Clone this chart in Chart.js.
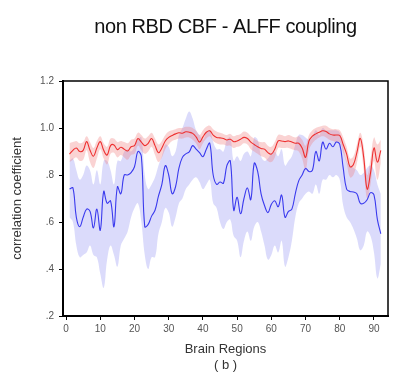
<!DOCTYPE html>
<html lang="en">
<head>
    <meta charset="UTF-8">
    <title>non RBD CBF - ALFF coupling</title>
    <script src="https://cdn.jsdelivr.net/npm/chart.js"></script>
    <style>
        html, body {
            margin: 0;
            padding: 0;
            background: #ffffff;
        }
        #wrap {
            width: 418px;
            height: 389px;
        }
    </style>
</head>
<body>
    <div id="wrap"><canvas id="coupling-chart" width="418" height="389"></canvas></div>
    <script>
        const chartTitle = "non RBD CBF - ALFF coupling";

        // brain region index (1..92)
        const regions = Array.from({ length: 92 }, (_, i) => i + 1);

        const xTicks = [0, 10, 20, 30, 40, 50, 60, 70, 80, 90];
        const yTicks = [0.2, 0.4, 0.6, 0.8, 1.0, 1.2];

        // red: mean + band
        const redMean = [
            0.889, 0.905, 0.915, 0.900, 0.905, 0.942, 0.905, 0.880, 0.915, 0.942,
            0.905, 0.885, 0.925, 0.928, 0.908, 0.918, 0.910, 0.902, 0.920, 0.925,
            0.955, 0.940, 0.925, 0.935, 0.955, 0.925, 0.895, 0.915, 0.945, 0.960,
            0.968, 0.975, 0.980, 0.978, 0.984, 0.982, 0.977, 0.962, 0.940, 0.962,
            0.982, 0.988, 0.970, 0.960, 0.958, 0.955, 0.949, 0.952, 0.942, 0.945,
            0.952, 0.960, 0.955, 0.940, 0.930, 0.920, 0.913, 0.910, 0.895, 0.889,
            0.910, 0.945, 0.945, 0.942, 0.945, 0.940, 0.935, 0.935, 0.915, 0.875,
            0.945, 0.965, 0.975, 0.982, 0.988, 0.985, 0.975, 0.970, 0.970, 0.968,
            0.930, 0.890, 0.835, 0.845, 0.895, 0.956, 0.875, 0.740, 0.810, 0.915,
            0.855, 0.905
        ];
        const redUpper = [
            0.935, 0.940, 0.945, 0.935, 0.940, 0.965, 0.940, 0.915, 0.945, 0.965,
            0.935, 0.920, 0.955, 0.955, 0.940, 0.945, 0.940, 0.935, 0.950, 0.955,
            0.980, 0.970, 0.955, 0.965, 0.980, 0.955, 0.930, 0.945, 0.970, 0.985,
            0.990, 0.995, 1.000, 1.000, 1.005, 1.005, 1.000, 0.988, 0.970, 0.990,
            1.005, 1.010, 0.995, 0.985, 0.980, 0.975, 0.970, 0.975, 0.965, 0.970,
            0.975, 0.985, 0.980, 0.965, 0.955, 0.945, 0.940, 0.940, 0.925, 0.920,
            0.940, 0.970, 0.970, 0.965, 0.970, 0.965, 0.960, 0.965, 0.950, 0.925,
            0.970, 0.990, 1.000, 1.005, 1.010, 1.010, 1.000, 0.995, 0.995, 0.990,
            0.960, 0.920, 0.870, 0.880, 0.930, 0.980, 0.920, 0.800, 0.870, 0.960,
            0.930, 0.950
        ];
        const redLower = [
            0.855, 0.865, 0.875, 0.860, 0.865, 0.905, 0.855, 0.830, 0.870, 0.910,
            0.870, 0.845, 0.890, 0.895, 0.875, 0.885, 0.875, 0.865, 0.885, 0.890,
            0.925, 0.905, 0.890, 0.900, 0.920, 0.885, 0.855, 0.875, 0.910, 0.930,
            0.945, 0.950, 0.955, 0.955, 0.960, 0.960, 0.950, 0.935, 0.910, 0.935,
            0.955, 0.965, 0.945, 0.935, 0.930, 0.930, 0.925, 0.925, 0.915, 0.920,
            0.925, 0.935, 0.930, 0.910, 0.900, 0.890, 0.880, 0.875, 0.860, 0.855,
            0.875, 0.915, 0.915, 0.915, 0.915, 0.910, 0.905, 0.900, 0.870, 0.820,
            0.905, 0.935, 0.950, 0.960, 0.965, 0.960, 0.950, 0.945, 0.940, 0.940,
            0.895, 0.850, 0.790, 0.800, 0.850, 0.920, 0.820, 0.700, 0.760, 0.860,
            0.780, 0.850
        ];

        // blue: mean + band
        const blueMean = [
            0.740, 0.745, 0.620, 0.580, 0.620, 0.655, 0.645, 0.575, 0.655, 0.565,
            0.730, 0.680, 0.690, 0.580, 0.750, 0.720, 0.800, 0.800, 0.810, 0.835,
            0.900, 0.880, 0.580, 0.590, 0.625, 0.650, 0.710, 0.760, 0.840, 0.800,
            0.720, 0.750, 0.830, 0.875, 0.890, 0.898, 0.925, 0.910, 0.895, 0.878,
            0.910, 0.935, 0.800, 0.760, 0.770, 0.765, 0.840, 0.860, 0.650, 0.705,
            0.635, 0.700, 0.745, 0.695, 0.850, 0.815, 0.720, 0.670, 0.640, 0.675,
            0.690, 0.665, 0.715, 0.620, 0.645, 0.655, 0.720, 0.775, 0.800, 0.828,
            0.815, 0.820, 0.900, 0.860, 0.940, 0.910, 0.935, 0.920, 0.940, 0.930,
            0.830, 0.740, 0.730, 0.728, 0.720, 0.680, 0.680, 0.695, 0.725, 0.715,
            0.610, 0.550
        ];
        const blueUpper = [
            0.860, 0.870, 0.820, 0.780, 0.800, 0.840, 0.820, 0.760, 0.820, 0.760,
            0.860, 0.860, 0.820, 0.760, 0.860, 0.860, 0.900, 0.910, 0.900, 0.920,
            0.950, 0.960, 0.800, 0.740, 0.760, 0.790, 0.840, 0.880, 0.930, 0.920,
            0.880, 0.900, 0.970, 1.000, 1.040, 1.070, 1.040, 0.990, 0.970, 0.950,
            0.980, 0.990, 0.940, 0.910, 0.910, 0.900, 0.950, 0.960, 0.860, 0.880,
            0.860, 0.890, 0.900, 0.880, 0.960, 0.950, 0.880, 0.860, 0.870, 0.890,
            0.900, 0.880, 0.910, 0.840, 0.860, 0.880, 0.930, 0.970, 0.970, 0.960,
            0.950, 0.960, 0.990, 0.970, 1.000, 0.990, 0.990, 0.990, 0.990, 0.980,
            0.920, 0.860, 0.840, 0.830, 0.820, 0.800, 0.810, 0.830, 0.840, 0.820,
            0.760, 0.720
        ];
        const blueLower = [
            0.620, 0.600, 0.500, 0.450, 0.460, 0.470, 0.500, 0.460, 0.450, 0.380,
            0.320, 0.440, 0.500, 0.460, 0.410, 0.500, 0.530, 0.560, 0.620, 0.660,
            0.680, 0.600, 0.460, 0.400, 0.450, 0.450, 0.550, 0.600, 0.660, 0.640,
            0.580, 0.620, 0.680, 0.700, 0.740, 0.760, 0.780, 0.790, 0.770, 0.740,
            0.760, 0.780, 0.680, 0.660, 0.600, 0.570, 0.600, 0.610, 0.540, 0.520,
            0.450, 0.520, 0.560, 0.520, 0.580, 0.600, 0.560, 0.500, 0.440, 0.460,
            0.500, 0.470, 0.520, 0.410, 0.450, 0.520, 0.620, 0.680, 0.700, 0.720,
            0.730, 0.720, 0.760, 0.720, 0.780, 0.780, 0.800, 0.790, 0.800, 0.780,
            0.670, 0.620, 0.600, 0.570, 0.530, 0.480, 0.500, 0.560, 0.540, 0.470,
            0.360, 0.420
        ];

        const toPoints = arr => regions.map((r, k) => ({ x: r, y: arr[k] }));

        const lineStyle = {
            pointRadius: 0,
            tension: 0.4,
            fill: false
        };

        // title centred over the plot area, plus the box round the plot
        const frame = {
            id: "frame",
            afterDatasetsDraw(chart) {
                const { ctx, chartArea: a } = chart;
                ctx.save();
                ctx.strokeStyle = "#000";
                ctx.lineWidth = 1.5;
                ctx.strokeRect(a.left, a.top, a.right - a.left, a.bottom - a.top);
                ctx.restore();
            },
            afterDraw(chart) {
                const { ctx, chartArea: a } = chart;
                ctx.save();
                ctx.fillStyle = "#111";
                ctx.font = "20px 'Liberation Sans', Arial, sans-serif";
                if ("letterSpacing" in ctx) ctx.letterSpacing = "-0.4px";
                ctx.textAlign = "center";
                ctx.textBaseline = "middle";
                ctx.fillText(chartTitle, (a.left + a.right) / 2, 27);
                ctx.restore();
            }
        };

        const ctx = document.getElementById("coupling-chart").getContext("2d");

        new Chart(ctx, {
            type: "line",
            data: {
                datasets: [
                    { ...lineStyle, data: toPoints(redMean), borderColor: "#ee3030", borderWidth: 1.1 },
                    { ...lineStyle, data: toPoints(blueMean), borderColor: "#3a3aee", borderWidth: 1.1 },
                    { ...lineStyle, data: toPoints(redUpper), borderWidth: 0, fill: 3, backgroundColor: "rgba(240, 120, 120, 0.33)" },
                    { ...lineStyle, data: toPoints(redLower), borderWidth: 0 },
                    { ...lineStyle, data: toPoints(blueUpper), borderWidth: 0, fill: 5, backgroundColor: "rgba(155, 155, 245, 0.36)" },
                    { ...lineStyle, data: toPoints(blueLower), borderWidth: 0 }
                ]
            },
            options: {
                responsive: false,
                animation: false,
                layout: { padding: { left: 0, right: 30, top: 81, bottom: 0 } },
                plugins: {
                    legend: { display: false },
                    tooltip: { enabled: false },
                    title: { display: false }
                },
                scales: {
                    x: {
                        type: "linear",
                        min: -0.9,
                        max: 94.1,
                        afterBuildTicks: scale => { scale.ticks = xTicks.map(v => ({ value: v })); },
                        afterFit: scale => { scale.height = 73; },
                        grid: { drawOnChartArea: false, drawTicks: true, tickLength: 4, tickColor: "#000" },
                        border: { display: true, color: "#000", width: 2 },
                        ticks: {
                            color: "#555",
                            padding: 3,
                            maxRotation: 0,
                            font: { family: "'Liberation Sans', Arial, sans-serif", size: 10 }
                        },
                        title: {
                            display: true,
                            text: ["Brain Regions", "( b )"],
                            color: "#333",
                            font: { family: "'Liberation Sans', Arial, sans-serif", size: 13, lineHeight: "16px" },
                            padding: { top: 0, bottom: 16 }
                        }
                    },
                    y: {
                        min: 0.2,
                        max: 1.2,
                        afterBuildTicks: scale => { scale.ticks = yTicks.map(v => ({ value: v })); },
                        afterFit: scale => { scale.width = 63; },
                        grid: { drawOnChartArea: false, drawTicks: true, tickLength: 4, tickColor: "#000" },
                        border: { display: true, color: "#000", width: 2 },
                        ticks: {
                            color: "#555",
                            padding: 5,
                            font: { family: "'Liberation Sans', Arial, sans-serif", size: 10 },
                            callback: v => (v >= 1 ? v.toFixed(1) : v.toFixed(1).slice(1))
                        },
                        title: {
                            display: true,
                            text: "correlation coefficient",
                            color: "#333",
                            font: { family: "'Liberation Sans', Arial, sans-serif", size: 13 },
                            padding: { top: 10, bottom: 0 }
                        }
                    }
                }
            },
            plugins: [frame]
        });
    </script>
</body>
</html>
